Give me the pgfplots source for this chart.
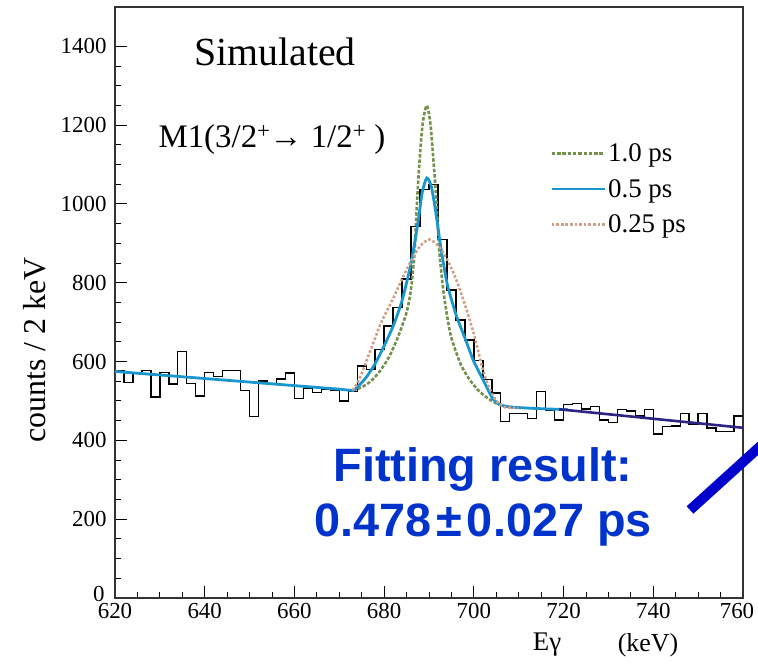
\documentclass[border=0pt]{standalone}
\usepackage{fontspec}
\setmainfont{Liberation Serif}
\newfontfamily\arialb{Liberation Sans}
\usepackage{pgfplots}
\pgfplotsset{compat=1.18}
\definecolor{hgreen}{RGB}{115,145,75}
\definecolor{hblue}{RGB}{25,150,205}
\definecolor{htan}{RGB}{205,160,135}
\definecolor{hnavy}{RGB}{45,35,130}
\definecolor{txtblue}{RGB}{0,51,204}
\definecolor{lineblue}{RGB}{0,0,204}
\begin{document}
\begin{tikzpicture}
\begin{axis}[
  scale only axis, width=628bp, height=591bp,
  xmin=620, xmax=760, ymin=0, ymax=1500,
  xtick={620,640,...,760}, ytick={0,200,...,1400},
  xticklabels={620,640,660,680,700,720,740,\hspace*{-12bp}760},
  yticklabels={\raisebox{9bp}{0\hspace*{2bp}},200,400,600,800,1000,1200,1400},
  minor x tick num=3, minor y tick num=3,
  tick align=inside, xtick pos=bottom, ytick pos=left,
  major tick length=12bp, minor tick length=6bp,
  tick style={line width=1bp, black},
  axis line style={line width=1.3bp, black!80},
  ticklabel style={font=\fontsize{23}{27}\selectfont},
  yticklabel style={xshift=-5bp},
  xticklabel style={yshift=-2bp},
  legend style={at={(axis cs:717,1158)}, anchor=north west, draw=none, fill=none,
    font=\fontsize{27}{31}\selectfont, row sep=12bp, inner sep=0pt,
    nodes={inner sep=2bp}, cells={anchor=west}},
  legend image code/.code={\draw[#1] (0bp,0bp) -- (53bp,0bp);},
]
% histogram
\addplot[const plot mark left, black, line width=1.4bp, forget plot] coordinates {
(620,578) (622,547) (624,572) (626,577) (628,510) (630,572) (632,543) (634,626)
(636,545) (638,513) (640,572) (642,562) (644,577) (646,577) (648,527) (650,461)
(652,551) (654,543) (656,556) (658,571) (660,506) (662,533) (664,522) (666,530)
(668,528) (670,500) (672,524) (674,589) (676,580) (678,630) (680,690) (682,738)
(684,810) (686,943) (688,1037) (690,1049) (692,910) (694,782) (696,706) (698,655)
(700,603) (702,554) (704,520) (706,448) (708,468) (710,469) (712,456) (714,524)
(716,476) (718,452) (720,491) (722,493) (724,480) (726,486) (728,452) (730,445)
(732,478) (734,475) (736,462) (738,478) (740,416) (742,435) (744,437) (746,469)
(748,440) (750,469) (752,431) (754,423) (756,423) (758,462) (760,462)};
% 1.0 ps
\addplot[hgreen, line width=2.6bp, dash pattern=on 3.5bp off 1.8bp, smooth, tension=0.45] coordinates {
(673,527) (675,535) (677,550) (679,575) (681,610) (683,660) (685,725) (686,785)
(686.8,880) (687.3,1000) (687.9,1110) (688.6,1205) (689.5,1250) (690.3,1205) (691,1110)
(691.7,1000) (692.3,880) (693.2,780) (694.2,705) (695,660) (697,595) (699,555)
(701,527) (703,508) (705,494) (707,486) (710,483)};
\addlegendentry{1.0 ps}
% 0.5 ps
\addplot[hblue, line width=2.8bp, smooth, tension=0.4] coordinates {
(620,575) (630,566) (640,557) (650,548) (660,539) (670,530) (673,527)
(674,535) (676,560) (678,595) (680,640) (682,690) (684,755) (686,850)
(687.5,950) (688.5,1030) (689.5,1066) (690.5,1045) (691.5,980) (692.5,900)
(694,800) (696,720) (698,660) (700,600) (702,555) (704,510) (705,497) (706,490)
(708,485) (712,482) (716,480) (721,478)};
\addlegendentry{0.5 ps}
% 0.25 ps
\addplot[htan, line width=2.6bp, dotted, smooth, tension=0.4] coordinates {
(673,527) (674,545) (675,570) (676,600) (677,630) (678,660) (679,690) (680,715)
(682,760) (684,810) (686,855) (688,893) (690,910) (692,895) (694,860) (696,810)
(698,745) (700,670) (701,625) (702,580) (703,545) (704,520) (705,500) (706,490) (707,484) (710,482)};
\addlegendentry{0.25 ps}
% fit line
\addplot[hnavy, line width=2.6bp, forget plot] coordinates {(719,479) (760,432)};
\end{axis}
\node at (160bp,546bp) {\fontsize{40}{46}\selectfont Simulated};
\node at (157bp,458bp) {\fontsize{33}{38}\selectfont M1(3/2\textsuperscript{+}\kern-1bp→ 1/2\textsuperscript{+} )};
\node[rotate=90] at (-80bp,248bp) {\fontsize{32}{38}\selectfont counts / 2 keV};
\node at (432bp,-47bp) {\fontsize{27}{32}\selectfont Eγ};
\node at (533bp,-47bp) {\fontsize{26}{32}\selectfont (keV)};
\node[align=center, text=txtblue, font=\arialb\bfseries\fontsize{47}{55}\selectfont] at (368bp,101bp)
  {Fitting result:\\0.478\hspace{5bp}±\hspace{5bp}0.027 ps};
\draw[lineblue, line width=10bp] (575bp,88bp) -- (650bp,156bp);
\pgfresetboundingbox
\useasboundingbox (-115bp,-65bp) rectangle (643bp,598bp);
\end{tikzpicture}
\end{document}
